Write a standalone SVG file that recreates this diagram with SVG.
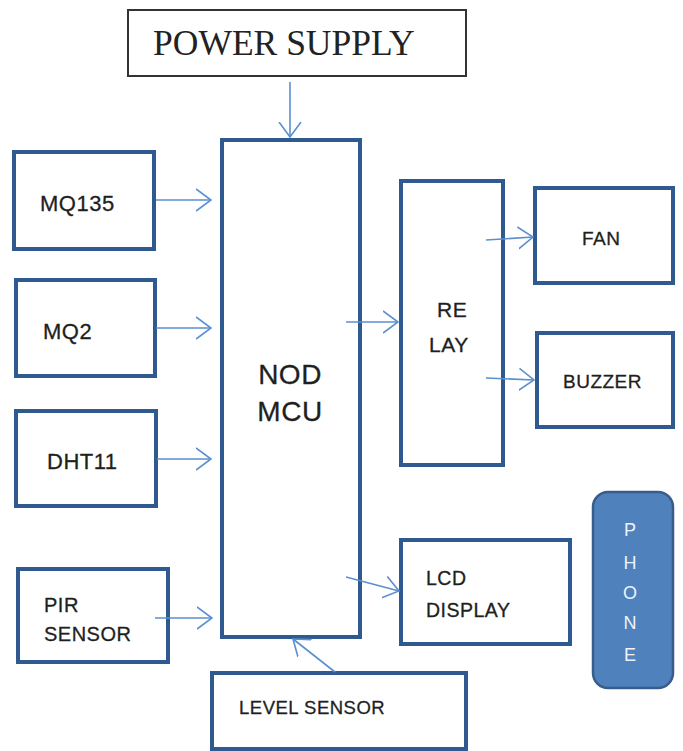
<svg xmlns="http://www.w3.org/2000/svg" width="683" height="751" viewBox="0 0 683 751">
<style>
.box{fill:#fff;stroke:#2f5a8f;stroke-width:4}
.t{font-family:"Liberation Sans",Arial,sans-serif;fill:#1f1f1f;stroke:#1f1f1f;stroke-width:0.3;letter-spacing:0.5px}
.c{fill:none;stroke:#5b8fd0;stroke-width:1.6}
</style>
<defs>
<marker id="ah" viewBox="0 0 16 24" refX="15" refY="12" markerWidth="16" markerHeight="24" markerUnits="userSpaceOnUse" orient="auto">
<path d="M0,1 L15,12 L0,23" fill="none" stroke="#5b8fd0" stroke-width="1.6"/>
</marker>
</defs>
<rect width="683" height="751" fill="#fff"/>
<g id="power">
<rect x="128" y="10" width="338" height="66" fill="#fff" stroke="#333" stroke-width="2"/>
<text x="153" y="55" font-family="'Liberation Serif','Times New Roman',serif" font-size="35.5" fill="#222">POWER SUPPLY</text>
</g>
<g id="nodemcu">
<rect class="box" x="222" y="140" width="138" height="497"/>
<text class="t" x="290" y="384" font-size="28" text-anchor="middle">NOD</text>
<text class="t" x="290" y="421" font-size="28" text-anchor="middle">MCU</text>
</g>
<g id="mq135">
<rect class="box" x="14" y="152" width="140" height="97"/>
<text class="t" x="40" y="211" font-size="22">MQ135</text>
</g>
<g id="mq2">
<rect class="box" x="16" y="280" width="139" height="96"/>
<text class="t" x="43" y="339" font-size="22">MQ2</text>
</g>
<g id="dht11">
<rect class="box" x="16" y="411" width="140" height="95"/>
<text class="t" x="47" y="469" font-size="22">DHT11</text>
</g>
<g id="pir">
<rect class="box" x="18" y="569" width="150" height="93"/>
<text class="t" x="44" y="612" font-size="20">PIR</text>
<text class="t" x="44" y="641" font-size="20">SENSOR</text>
</g>
<g id="relay">
<rect class="box" x="401" y="181" width="102" height="284"/>
<text class="t" x="437" y="317" font-size="21">RE</text>
<text class="t" x="429" y="352" font-size="21">LAY</text>
</g>
<g id="fan">
<rect class="box" x="535" y="188" width="138" height="95"/>
<text class="t" x="582" y="245" font-size="19">FAN</text>
</g>
<g id="buzzer">
<rect class="box" x="537" y="333" width="136" height="94"/>
<text class="t" x="563" y="388" font-size="19">BUZZER</text>
</g>
<g id="lcd">
<rect class="box" x="401" y="540" width="169" height="104"/>
<text class="t" x="426" y="585" font-size="19.5">LCD</text>
<text class="t" x="426" y="617" font-size="19.5">DISPLAY</text>
</g>
<g id="phone">
<rect x="593" y="492" width="80" height="196" rx="15" ry="15" fill="#4f81bd" stroke="#385d8a" stroke-width="2.5"/>
<g font-family="'Liberation Sans',Arial,sans-serif" font-size="18" fill="#eef3fa" text-anchor="middle">
<text x="630" y="536">P</text>
<text x="630" y="569">H</text>
<text x="630" y="599">O</text>
<text x="630" y="629">N</text>
<text x="630" y="661">E</text>
</g>
</g>
<g id="level">
<rect class="box" x="212" y="673" width="254" height="76"/>
<text class="t" x="239" y="714" font-size="18.5">LEVEL SENSOR</text>
</g>
<g id="connectors">
<line class="c" x1="290" y1="82" x2="290" y2="137" marker-end="url(#ah)"/>
<line class="c" x1="156" y1="200" x2="211" y2="200" marker-end="url(#ah)"/>
<line class="c" x1="156" y1="328" x2="211" y2="328" marker-end="url(#ah)"/>
<line class="c" x1="157" y1="459" x2="211" y2="459" marker-end="url(#ah)"/>
<line class="c" x1="155" y1="618" x2="212" y2="618" marker-end="url(#ah)"/>
<line class="c" x1="346" y1="322" x2="398" y2="322" marker-end="url(#ah)"/>
<line class="c" x1="486" y1="240" x2="533" y2="237" marker-end="url(#ah)"/>
<line class="c" x1="486" y1="378" x2="534" y2="380" marker-end="url(#ah)"/>
<line class="c" x1="346" y1="577" x2="399" y2="591" marker-end="url(#ah)"/>
<line class="c" x1="335" y1="672" x2="293" y2="639" marker-end="url(#ah)"/>
</g>
</svg>
